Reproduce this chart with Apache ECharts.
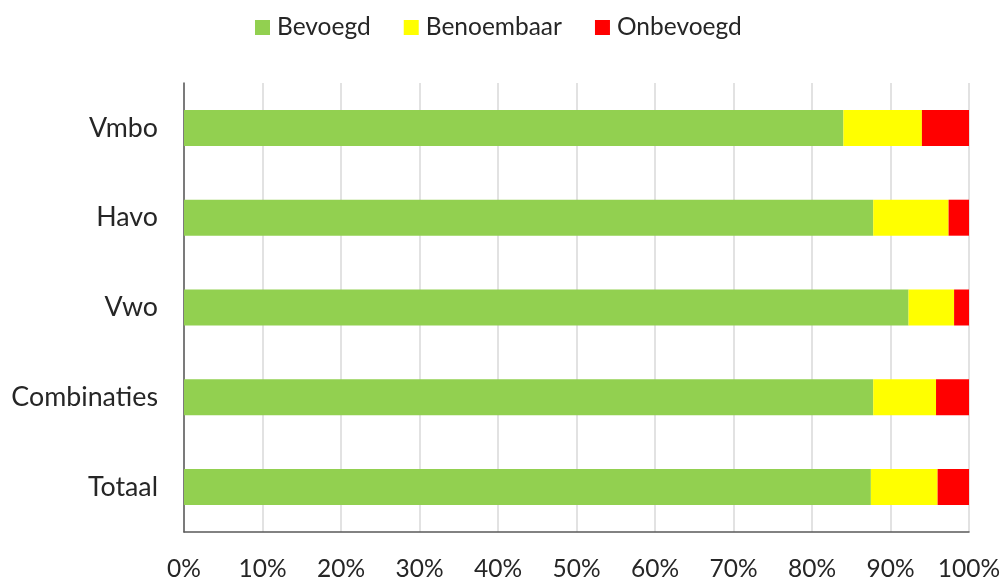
<!DOCTYPE html>
<html>
<head>
<meta charset="utf-8">
<script src="https://cdn.jsdelivr.net/npm/echarts@6/dist/echarts.min.js"></script>
<style>
  html, body { margin: 0; padding: 0; background: #fff; }
  #chart { width: 1006px; height: 582px; }
</style>
</head>
<body>
<div id="chart"></div>
<script>
// Share of lessons per school type (percent)
const categories = ['Vmbo', 'Havo', 'Vwo', 'Combinaties', 'Totaal'];
const bevoegd = [84.0, 87.8, 92.3, 87.8, 87.5];
const benoembaar = [10.0, 9.6, 5.8, 8.0, 8.5];
const onbevoegd = [6.0, 2.6, 1.9, 4.2, 4.0];
const seriesNames = ['Bevoegd', 'Benoembaar', 'Onbevoegd'];
const colors = ['#92d050', '#ffff00', '#ff0000'];

const FONT = 'Lato, "Open Sans", sans-serif';
const TEXT = '#262626';

const chart = echarts.init(document.getElementById('chart'), null, { renderer: 'canvas' });

const values = [bevoegd, benoembaar, onbevoegd];

chart.setOption({
  animation: false,
  color: colors,
  textStyle: { fontFamily: FONT },
  legend: {
    top: 10,
    left: 250,
    itemWidth: 15,
    itemHeight: 15,
    itemGap: 33,
    icon: 'rect',
    textStyle: { fontSize: 24.5, color: TEXT, fontFamily: FONT, padding: [0, 0, 0, 2] },
    data: seriesNames
  },
  grid: { left: 184, right: 37, top: 83, bottom: 50, containLabel: false },
  xAxis: {
    type: 'value',
    min: 0,
    max: 100,
    interval: 10,
    axisLine: { show: true, lineStyle: { color: '#595959', width: 1.5 } },
    axisTick: { show: false },
    splitLine: { show: true, lineStyle: { color: '#d9d9d9', width: 1.5 } },
    axisLabel: {
      formatter: '{value}%',
      fontSize: 24.5,
      color: TEXT,
      fontFamily: FONT,
      margin: 25
    }
  },
  yAxis: {
    type: 'category',
    inverse: true,
    data: categories,
    axisLine: { show: true, lineStyle: { color: '#595959', width: 1.5 } },
    axisTick: { show: false },
    axisLabel: { fontSize: 26.8, color: TEXT, fontFamily: FONT, margin: 26 }
  },
  series: seriesNames.map((name, i) => ({
    name: name,
    type: 'bar',
    stack: 'total',
    barWidth: 36,
    data: values[i],
    itemStyle: { color: colors[i] }
  }))
});
</script>
</body>
</html>
